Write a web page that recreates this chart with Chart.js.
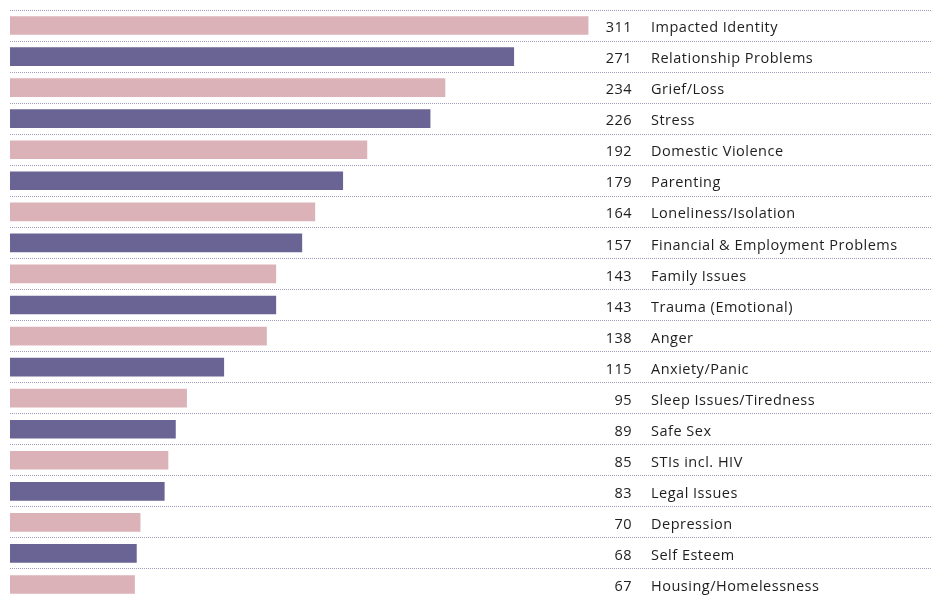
<!DOCTYPE html>
<html>
<head>
<meta charset="utf-8">
<script src="https://cdn.jsdelivr.net/npm/chart.js@4.4.0/dist/chart.umd.min.js"></script>
<style>
    html, body { margin: 0; padding: 0; background: #fff; overflow: hidden; }
    #wrap { position: relative; width: 936px; height: 612px; }
</style>
</head>
<body>
<div id="wrap"><canvas id="issuesChart"></canvas></div>
<script>
// --- Data ---
const issues = [
    'Impacted Identity', 'Relationship Problems', 'Grief/Loss', 'Stress',
    'Domestic Violence', 'Parenting', 'Loneliness/Isolation',
    'Financial & Employment Problems', 'Family Issues', 'Trauma (Emotional)',
    'Anger', 'Anxiety/Panic', 'Sleep Issues/Tiredness', 'Safe Sex',
    'STIs incl. HIV', 'Legal Issues', 'Depression', 'Self Esteem',
    'Housing/Homelessness'
];
const counts = [311, 271, 234, 226, 192, 179, 164, 157, 143, 143, 138, 115, 95, 89, 85, 83, 70, 68, 67];

const PINK = '#dcb2b9';
const PURPLE = '#6a6495';
const barColors = counts.map((_, i) => (i % 2 === 0 ? PINK : PURPLE));

// --- Labels drawn to the right of the bars ---
const rowLabels = {
    id: 'rowLabels',
    afterDatasetsDraw(chart) {
        const ctx = chart.ctx;
        const y = chart.scales.y;
        ctx.save();
        ctx.font = '14.5px "Open Sans", sans-serif';
        ctx.letterSpacing = '0.5px';
        ctx.fillStyle = '#1e1e1e';
        ctx.textBaseline = 'middle';
        issues.forEach((name, i) => {
            const py = y.getPixelForValue(i) + 2.5;
            ctx.textAlign = 'right';
            ctx.fillText(String(counts[i]), 632, py);
            ctx.textAlign = 'left';
            ctx.fillText(name, 651, py);
        });
        ctx.restore();
    }
};

new Chart(document.getElementById('issuesChart'), {
    type: 'bar',
    data: {
        labels: issues,
        datasets: [{
            data: counts,
            backgroundColor: barColors,
            barThickness: 18,
            borderWidth: 0
        }]
    },
    options: {
        indexAxis: 'y',
        responsive: true,
        maintainAspectRatio: false,
        animation: false,
        layout: { padding: { left: 10, right: 4, top: 10, bottom: 12 } },
        scales: {
            x: {
                display: false,
                min: 0,
                max: 496
            },
            y: {
                offset: true,
                grid: {
                    offset: true,
                    color: '#a19cc0',
                    lineWidth: 1,
                    drawTicks: false
                },
                border: { display: false, dash: [1, 1] },
                ticks: { display: false }
            }
        },
        plugins: {
            legend: { display: false },
            tooltip: { enabled: false }
        }
    },
    plugins: [rowLabels]
});
</script>
</body>
</html>
